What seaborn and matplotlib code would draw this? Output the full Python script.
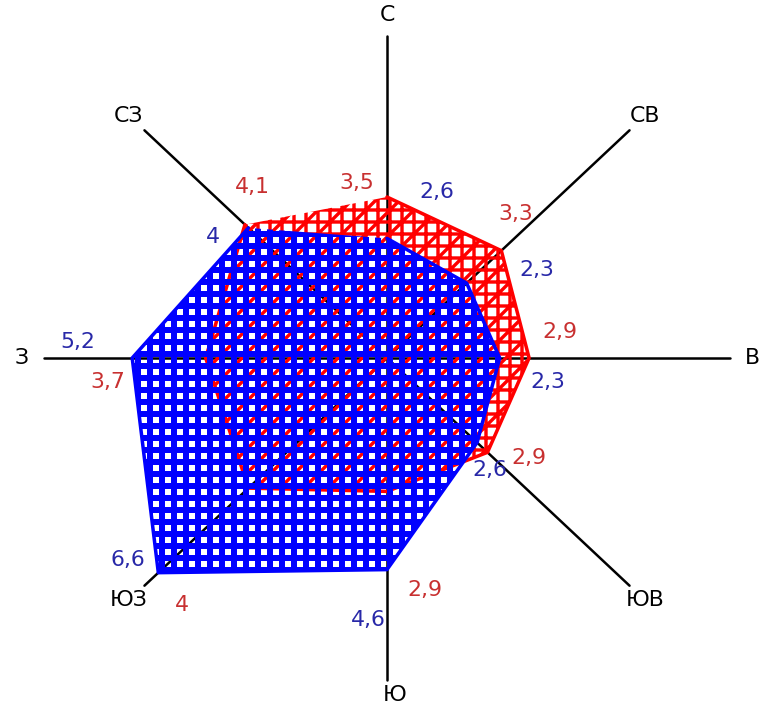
import numpy as np
import pandas as pd
import matplotlib
matplotlib.use('Agg')
import matplotlib.pyplot as plt
import seaborn as sns

# ------------------------------------------------------------
# Wind rose data: 8 directions, two series (blue / red)
# ------------------------------------------------------------
directions = ['С', 'СВ', 'В', 'ЮВ', 'Ю', 'ЮЗ', 'З', 'СЗ']
angles_deg = [90, 45, 0, -45, -90, -135, 180, 135]
blue_vals = [2.6, 2.3, 2.3, 2.6, 4.6, 6.6, 5.2, 4.0]
red_vals = [3.5, 3.3, 2.9, 2.9, 2.9, 4.0, 3.7, 4.1]
blue_text = ['2,6', '2,3', '2,3', '2,6', '4,6', '6,6', '5,2', '4']
red_text = ['3,5', '3,3', '2,9', '2,9', '2,9', '4', '3,7', '4,1']

# label offsets in pixels (styling only)
blue_off = [(50, 46), (70, 13), (48, -24), (13, -27), (-19, -50), (-30, 13), (-54, 16), (-36, -9)]
red_off = [(-30, 14), (14, 37), (31, 26), (41, -6), (38, -99), (-67, -117), (-98, -24), (7, 38)]
dir_off = [(0, 0), (0, 0), (0, 0), (0, 0), (8, 6), (0, 0), (0, 0), (0, 0)]

BLUE = '#0000ff'
RED = '#ff0000'
BLUE_TXT = '#2828a8'
RED_TXT = '#c83030'

sns.set_theme(style='white')
plt.rcParams['font.family'] = ['DejaVu Sans']

ang = np.deg2rad(angles_deg)


def to_frame(vals):
    v = np.asarray(vals)
    df = pd.DataFrame({'x': v * np.cos(ang), 'y': v * np.sin(ang)})
    return pd.concat([df, df.iloc[[0]]], ignore_index=True)


def hatched_fill(ax, df, color, hatch, hlw, z):
    with plt.rc_context({'hatch.linewidth': hlw}):
        patch = ax.fill(df['x'], df['y'], facecolor='none', edgecolor=color,
                        hatch=hatch, lw=0, zorder=z)[0]
    if hasattr(patch, 'set_hatch_linewidth'):
        patch.set_hatch_linewidth(hlw)
    return patch


blue_df = to_frame(blue_vals)
red_df = to_frame(red_vals)

dpi = 72
fig = plt.figure(figsize=(762 / dpi, 708 / dpi), dpi=dpi)
ax = fig.add_axes([0, 0, 1, 1])
ax.set_xlim(-387 / 49, (762 - 387) / 49)
ax.set_ylim(-(708 - 358) / 46, 358 / 46)
ax.axis('off')

# spokes
spoke_len = 7.0
for a in ang:
    sns.lineplot(x=[0, spoke_len * np.cos(a)], y=[0, spoke_len * np.sin(a)],
                 color='black', lw=2.5, ax=ax, zorder=1)

# red polygon (grid hatch)
hatched_fill(ax, red_df, RED, '+/', 3.4, 2)
sns.lineplot(data=red_df, x='x', y='y', sort=False, color=RED, lw=3.5,
             ax=ax, zorder=2.5)

# blue polygon (mesh hatch) on top
hatched_fill(ax, blue_df, BLUE, '+', 6.0, 3)
sns.lineplot(data=blue_df, x='x', y='y', sort=False, color=BLUE, lw=3.5,
             ax=ax, zorder=3.5)

# value labels
for i in range(len(directions)):
    ax.annotate(blue_text[i], (blue_df['x'][i], blue_df['y'][i]),
                xytext=blue_off[i], textcoords='offset pixels',
                ha='center', va='center', fontsize=22, color=BLUE_TXT, zorder=5)
    ax.annotate(red_text[i], (red_df['x'][i], red_df['y'][i]),
                xytext=red_off[i], textcoords='offset pixels',
                ha='center', va='center', fontsize=22, color=RED_TXT, zorder=5)

# direction labels
label_r = 7.45
for i, d in enumerate(directions):
    ax.annotate(d, (label_r * np.cos(ang[i]), label_r * np.sin(ang[i])),
                xytext=dir_off[i], textcoords='offset pixels',
                ha='center', va='center', fontsize=22, color='black', zorder=5)

fig.savefig('out.png', dpi=dpi, facecolor='white')
